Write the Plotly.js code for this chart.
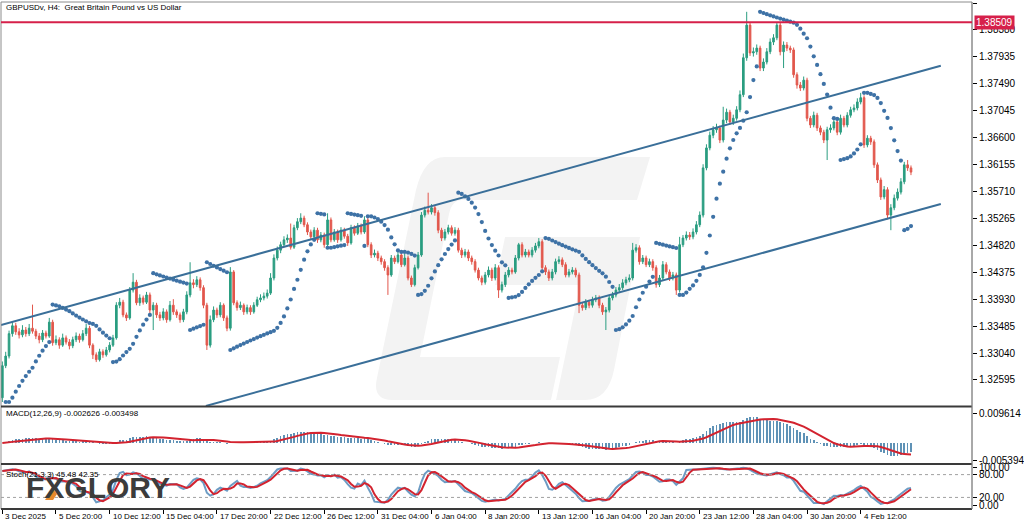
<!DOCTYPE html>
<html><head><meta charset="utf-8">
<script src="https://cdn.plot.ly/plotly-3.0.1.min.js"></script>
<style>html,body{margin:0;padding:0;background:#fff}#chart{width:1024px;height:524px}</style>
</head><body><div id="chart"></div>
<script>
// ---------- DATA ----------
const opens = [
1.3230,1.3283,1.3299,1.3336,1.3349,1.3339,1.3334,1.3342,1.3336,1.3345,
1.3340,1.3332,1.3326,1.3337,1.3332,1.3355,1.3321,1.3326,1.3317,1.3329,
1.3322,1.3316,1.3326,1.3332,1.3326,1.3336,1.3345,1.3317,1.3301,1.3293,
1.3306,1.3301,1.3309,1.3317,1.3329,1.3383,1.3388,1.3367,1.3362,1.3408,
1.3421,1.3387,1.3395,1.3388,1.3400,1.3375,1.3383,1.3367,1.3362,1.3372,
1.3359,1.3383,1.3372,1.3367,1.3359,1.3372,1.3400,1.3420,1.3417,1.3425,
1.3412,1.3383,1.3317,1.3359,1.3375,1.3367,1.3383,1.3362,1.3345,1.3438,
1.3387,1.3379,1.3383,1.3372,1.3379,1.3372,1.3383,1.3392,1.3395,1.3398,
1.3403,1.3428,1.3461,1.3474,1.3483,1.3491,1.3494,1.3479,1.3511,1.3521,
1.3527,1.3516,1.3504,1.3496,1.3507,1.3491,1.3499,1.3483,1.3524,1.3491,
1.3504,1.3491,1.3507,1.3497,1.3486,1.3511,1.3502,1.3514,1.3504,1.3524,
1.3483,1.3466,1.3469,1.3461,1.3455,1.3445,1.3433,1.3461,1.3455,1.3466,
1.3450,1.3461,1.3428,1.3417,1.3445,1.3466,1.3532,1.3540,1.3537,1.3544,
1.3536,1.3507,1.3494,1.3504,1.3511,1.3502,1.3507,1.3474,1.3466,1.3471,
1.3461,1.3455,1.3441,1.3428,1.3421,1.3433,1.3441,1.3428,1.3445,1.3408,
1.3417,1.3433,1.3441,1.3438,1.3461,1.3483,1.3466,1.3471,1.3466,1.3474,
1.3481,1.3488,1.3445,1.3438,1.3428,1.3438,1.3455,1.3458,1.3450,1.3433,
1.3438,1.3441,1.3433,1.3383,1.3379,1.3388,1.3383,1.3392,1.3395,1.3383,
1.3372,1.3375,1.3395,1.3400,1.3408,1.3412,1.3420,1.3425,1.3428,1.3474,
1.3478,1.3455,1.3461,1.3450,1.3455,1.3445,1.3417,1.3428,1.3450,1.3438,
1.3428,1.3433,1.3408,1.3483,1.3494,1.3499,1.3496,1.3504,1.3516,1.3532,
1.3610,1.3643,1.3664,1.3673,1.3676,1.3656,1.3689,1.3702,1.3686,1.3692,
1.3706,1.3731,1.3792,1.3846,1.3800,1.3802,1.3808,1.3775,1.3785,1.3802,
1.3818,1.3825,1.3846,1.3802,1.3813,1.3808,1.3805,1.3764,1.3747,1.3742,
1.3755,1.3692,1.3681,1.3697,1.3676,1.3669,1.3656,1.3673,1.3676,1.3686,
1.3669,1.3692,1.3681,1.3697,1.3706,1.3709,1.3719,1.3726,1.3648,1.3659,
1.3653,1.3615,1.3590,1.3562,1.3574,1.3532,1.3544,1.3560,1.3570,1.3587,
1.3615,1.3610];
const highs = [
1.3290,1.3306,1.3341,1.3356,1.3354,1.3345,1.3350,1.3347,1.3352,1.3384,
1.3344,1.3337,1.3342,1.3341,1.3362,1.3359,1.3333,1.3330,1.3336,1.3333,
1.3327,1.3331,1.3338,1.3336,1.3342,1.3352,1.3349,1.3320,1.3305,1.3311,
1.3310,1.3314,1.3322,1.3334,1.3388,1.3395,1.3392,1.3371,1.3413,1.3436,
1.3425,1.3401,1.3399,1.3405,1.3404,1.3388,1.3387,1.3372,1.3378,1.3376,
1.3390,1.3393,1.3376,1.3371,1.3377,1.3406,1.3454,1.3426,1.3431,1.3429,
1.3416,1.3387,1.3366,1.3381,1.3379,1.3388,1.3386,1.3366,1.3446,1.3441,
1.3391,1.3389,1.3386,1.3384,1.3383,1.3388,1.3397,1.3401,1.3404,1.3409,
1.3436,1.3467,1.3480,1.3488,1.3497,1.3500,1.3518,1.3516,1.3527,1.3535,
1.3531,1.3520,1.3508,1.3512,1.3511,1.3504,1.3503,1.3535,1.3528,1.3509,
1.3508,1.3512,1.3511,1.3501,1.3516,1.3515,1.3519,1.3518,1.3530,1.3528,
1.3487,1.3475,1.3473,1.3465,1.3459,1.3449,1.3466,1.3465,1.3471,1.3470,
1.3468,1.3465,1.3432,1.3450,1.3471,1.3537,1.3546,1.3569,1.3550,1.3548,
1.3540,1.3511,1.3509,1.3516,1.3515,1.3512,1.3511,1.3478,1.3476,1.3475,
1.3465,1.3459,1.3445,1.3432,1.3438,1.3447,1.3445,1.3451,1.3449,1.3422,
1.3438,1.3446,1.3445,1.3466,1.3486,1.3487,1.3476,1.3475,1.3479,1.3486,
1.3494,1.3492,1.3449,1.3442,1.3443,1.3460,1.3464,1.3462,1.3454,1.3443,
1.3446,1.3445,1.3437,1.3388,1.3393,1.3392,1.3397,1.3400,1.3399,1.3387,
1.3380,1.3400,1.3405,1.3413,1.3418,1.3426,1.3430,1.3434,1.3486,1.3484,
1.3482,1.3466,1.3465,1.3460,1.3459,1.3449,1.3433,1.3456,1.3454,1.3442,
1.3438,1.3437,1.3496,1.3499,1.3505,1.3504,1.3510,1.3522,1.3538,1.3616,
1.3649,1.3670,1.3679,1.3683,1.3680,1.3711,1.3708,1.3706,1.3698,1.3712,
1.3738,1.3799,1.3868,1.3851,1.3809,1.3814,1.3812,1.3791,1.3808,1.3824,
1.3831,1.3851,1.3850,1.3819,1.3818,1.3812,1.3809,1.3768,1.3752,1.3761,
1.3759,1.3696,1.3703,1.3701,1.3680,1.3673,1.3678,1.3682,1.3691,1.3690,
1.3698,1.3696,1.3702,1.3711,1.3715,1.3725,1.3734,1.3730,1.3664,1.3663,
1.3657,1.3619,1.3594,1.3580,1.3578,1.3550,1.3566,1.3576,1.3593,1.3620,
1.3623,1.3614];
const lows = [
1.3223,1.3279,1.3295,1.3331,1.3334,1.3328,1.3330,1.3331,1.3332,1.3336,
1.3327,1.3320,1.3322,1.3328,1.3329,1.3316,1.3317,1.3311,1.3314,1.3318,
1.3310,1.3312,1.3322,1.3321,1.3323,1.3332,1.3312,1.3294,1.3289,1.3290,
1.3296,1.3298,1.3305,1.3314,1.3326,1.3378,1.3363,1.3357,1.3359,1.3404,
1.3383,1.3382,1.3384,1.3385,1.3370,1.3342,1.3362,1.3357,1.3358,1.3354,
1.3356,1.3367,1.3362,1.3354,1.3355,1.3368,1.3396,1.3411,1.3413,1.3407,
1.3378,1.3309,1.3313,1.3355,1.3362,1.3363,1.3357,1.3340,1.3341,1.3383,
1.3374,1.3375,1.3367,1.3368,1.3367,1.3369,1.3380,1.3388,1.3391,1.3394,
1.3400,1.3424,1.3457,1.3469,1.3479,1.3486,1.3475,1.3476,1.3507,1.3517,
1.3512,1.3499,1.3491,1.3492,1.3486,1.3487,1.3478,1.3480,1.3487,1.3488,
1.3486,1.3488,1.3493,1.3481,1.3483,1.3498,1.3499,1.3500,1.3501,1.3479,
1.3461,1.3462,1.3456,1.3450,1.3440,1.3400,1.3430,1.3451,1.3452,1.3446,
1.3447,1.3424,1.3413,1.3414,1.3442,1.3463,1.3528,1.3533,1.3533,1.3531,
1.3502,1.3489,1.3490,1.3500,1.3498,1.3498,1.3470,1.3461,1.3462,1.3456,
1.3450,1.3437,1.3424,1.3416,1.3417,1.3429,1.3423,1.3424,1.3395,1.3404,
1.3413,1.3429,1.3434,1.3435,1.3457,1.3462,1.3462,1.3462,1.3462,1.3470,
1.3477,1.3441,1.3433,1.3423,1.3424,1.3434,1.3451,1.3446,1.3429,1.3429,
1.3434,1.3429,1.3370,1.3374,1.3375,1.3378,1.3379,1.3388,1.3378,1.3367,
1.3342,1.3371,1.3391,1.3396,1.3404,1.3408,1.3416,1.3421,1.3424,1.3470,
1.3450,1.3451,1.3446,1.3446,1.3440,1.3412,1.3413,1.3424,1.3434,1.3423,
1.3424,1.3400,1.3404,1.3479,1.3490,1.3491,1.3492,1.3500,1.3512,1.3528,
1.3606,1.3639,1.3659,1.3668,1.3651,1.3652,1.3684,1.3681,1.3681,1.3688,
1.3702,1.3727,1.3787,1.3795,1.3794,1.3797,1.3770,1.3770,1.3781,1.3798,
1.3813,1.3821,1.3796,1.3775,1.3803,1.3800,1.3759,1.3741,1.3737,1.3738,
1.3687,1.3676,1.3677,1.3671,1.3664,1.3651,1.3623,1.3668,1.3672,1.3664,
1.3665,1.3677,1.3677,1.3693,1.3702,1.3705,1.3715,1.3643,1.3644,1.3648,
1.3610,1.3585,1.3557,1.3558,1.3525,1.3507,1.3540,1.3556,1.3566,1.3583,
1.3605,1.3598];
const closes = [
1.3283,1.3299,1.3336,1.3349,1.3339,1.3334,1.3342,1.3336,1.3345,1.3340,
1.3332,1.3326,1.3337,1.3332,1.3355,1.3321,1.3326,1.3317,1.3329,1.3322,
1.3316,1.3326,1.3332,1.3326,1.3336,1.3345,1.3317,1.3301,1.3293,1.3306,
1.3301,1.3309,1.3317,1.3329,1.3383,1.3388,1.3367,1.3362,1.3408,1.3421,
1.3387,1.3395,1.3388,1.3400,1.3375,1.3383,1.3367,1.3362,1.3372,1.3359,
1.3383,1.3372,1.3367,1.3359,1.3372,1.3400,1.3420,1.3417,1.3425,1.3412,
1.3383,1.3317,1.3359,1.3375,1.3367,1.3383,1.3362,1.3345,1.3438,1.3387,
1.3379,1.3383,1.3372,1.3379,1.3372,1.3383,1.3392,1.3395,1.3398,1.3403,
1.3428,1.3461,1.3474,1.3483,1.3491,1.3494,1.3479,1.3511,1.3521,1.3527,
1.3516,1.3504,1.3496,1.3507,1.3491,1.3499,1.3483,1.3524,1.3491,1.3504,
1.3491,1.3507,1.3497,1.3486,1.3511,1.3502,1.3514,1.3504,1.3524,1.3483,
1.3466,1.3469,1.3461,1.3455,1.3445,1.3433,1.3461,1.3455,1.3466,1.3450,
1.3461,1.3428,1.3417,1.3445,1.3466,1.3532,1.3540,1.3537,1.3544,1.3536,
1.3507,1.3494,1.3504,1.3511,1.3502,1.3507,1.3474,1.3466,1.3471,1.3461,
1.3455,1.3441,1.3428,1.3421,1.3433,1.3441,1.3428,1.3445,1.3408,1.3417,
1.3433,1.3441,1.3438,1.3461,1.3483,1.3466,1.3471,1.3466,1.3474,1.3481,
1.3488,1.3445,1.3438,1.3428,1.3438,1.3455,1.3458,1.3450,1.3433,1.3438,
1.3441,1.3433,1.3383,1.3379,1.3388,1.3383,1.3392,1.3395,1.3383,1.3372,
1.3375,1.3395,1.3400,1.3408,1.3412,1.3420,1.3425,1.3428,1.3474,1.3478,
1.3455,1.3461,1.3450,1.3455,1.3445,1.3417,1.3428,1.3450,1.3438,1.3428,
1.3433,1.3408,1.3483,1.3494,1.3499,1.3496,1.3504,1.3516,1.3532,1.3610,
1.3643,1.3664,1.3673,1.3676,1.3656,1.3689,1.3702,1.3686,1.3692,1.3706,
1.3731,1.3792,1.3846,1.3800,1.3802,1.3808,1.3775,1.3785,1.3802,1.3818,
1.3825,1.3846,1.3802,1.3813,1.3808,1.3805,1.3764,1.3747,1.3742,1.3755,
1.3692,1.3681,1.3697,1.3676,1.3669,1.3656,1.3673,1.3676,1.3686,1.3669,
1.3692,1.3681,1.3697,1.3706,1.3709,1.3719,1.3726,1.3648,1.3659,1.3653,
1.3615,1.3590,1.3562,1.3574,1.3532,1.3544,1.3560,1.3570,1.3587,1.3615,
1.3610,1.3603];

const timeLabels = ['3 Dec 2025','5 Dec 20:00','10 Dec 12:00','15 Dec 04:00','17 Dec 20:00',
  '22 Dec 12:00','26 Dec 12:00','31 Dec 04:00','6 Jan 04:00','8 Jan 20:00','13 Jan 12:00',
  '16 Jan 04:00','20 Jan 20:00','23 Jan 12:00','28 Jan 04:00','30 Jan 20:00','4 Feb 12:00'];
const barsPerLabel = 16;
const priceTicks = [1.38825,1.38380,1.37935,1.37490,1.37045,1.36600,1.36155,1.35710,
  1.35265,1.34820,1.34375,1.33930,1.33485,1.33040,1.32595];
const resistanceLevel = [1.38509];
const upperChannelX = [-0.4, 279.9], upperChannelY = [1.33504, 1.37789];
const lowerChannelX = [60.7, 279.9], lowerChannelY = [1.32165, 1.35503];
const macdScale = [0.009614, -0.005394];
const macdInfo = [-0.002626, -0.003498];
const stochLevels = [80, 20];
const stochScale = [100, 80, 20, 0];
const stochInfo = [45.48, 42.35];

// ---------- INDICATORS (computed from OHLC as the terminal does) ----------
const idx = closes.map((_, i) => i);
function ema(src, p){const k=2/(p+1);let e=src[0];return src.map((v,i)=>(e = i? v*k + e*(1-k) : v));}
function sma(src, p){return src.map((_,i)=>{const a=src.slice(Math.max(0,i-p+1),i+1);return a.reduce((s,v)=>s+v,0)/a.length;});}
const e12 = ema(closes,12), e26 = ema(closes,26);
const macdMain = closes.map((_,i)=>e12[i]-e26[i]);
const macdSignal = sma(macdMain, 9);
const stochK = closes.map((_,i)=>{let num=0,den=0;for(let j=Math.max(0,i-2);j<=i;j++){const a=Math.max(0,j-20);const lo=Math.min(...lows.slice(a,j+1));const hi=Math.max(...highs.slice(a,j+1));num+=closes[j]-lo;den+=hi-lo;}return den?100*num/den:50;});
const stochD = sma(stochK,3);
function psar(h,l,step,maxAf){
  const out=new Array(h.length).fill(null);
  let up=true, af=step, ep=h[0], sar=l[0];
  for(let i=1;i<h.length;i++){
    sar = sar + af*(ep-sar);
    if(up){
      sar=Math.min(sar,l[i-1],i>1?l[i-2]:l[i-1]);
      if(l[i]<sar){up=false;sar=ep;ep=l[i];af=step;}
      else if(h[i]>ep){ep=h[i];af=Math.min(af+step,maxAf);}
    } else {
      sar=Math.max(sar,h[i-1],i>1?h[i-2]:h[i-1]);
      if(h[i]>sar){up=true;sar=ep;ep=h[i];af=step;}
      else if(l[i]<ep){ep=l[i];af=Math.min(af+step,maxAf);}
    }
    out[i]=sar;
  }
  return out;
}
const sarVals = psar(highs,lows,0.02,0.2);

// ---------- STYLE ----------
const UP='#2a9d80', DN='#e2574c', BLUE='#3e72a6', RED='#d3232f';
const FONT='Liberation Sans, Arial, sans-serif';
const PX=(x,y)=>`${((x-1)/971).toFixed(4)},${((509-y)/507).toFixed(4)}`;

const traces = [
  {type:'candlestick', x:idx, open:opens, high:highs, low:lows, close:closes, xaxis:'x', yaxis:'y',
   whiskerwidth:0, hoverinfo:'skip',
   increasing:{line:{color:UP,width:1},fillcolor:UP}, decreasing:{line:{color:DN,width:1},fillcolor:DN}},
  {type:'scatter', mode:'markers', x:idx, y:sarVals, xaxis:'x', yaxis:'y',
   marker:{size:4.2,color:BLUE}, hoverinfo:'skip'},
  {type:'scatter', mode:'lines', x:upperChannelX, y:upperChannelY, xaxis:'x', yaxis:'y',
   line:{color:'#3a6f99',width:2}, hoverinfo:'skip'},
  {type:'scatter', mode:'lines', x:lowerChannelX, y:lowerChannelY, xaxis:'x', yaxis:'y',
   line:{color:'#3a6f99',width:2}, hoverinfo:'skip'},
  {type:'bar', x:idx, y:macdMain, xaxis:'x', yaxis:'y2', width:0.5,
   marker:{color:'#5f92b6',line:{width:0}}, hoverinfo:'skip'},
  {type:'scatter', mode:'lines', x:idx, y:macdSignal, xaxis:'x', yaxis:'y2',
   line:{color:RED,width:2}, hoverinfo:'skip'},
  {type:'scatter', mode:'lines', x:idx, y:stochK, xaxis:'x', yaxis:'y3',
   line:{color:'#6d9cc4',width:2}, hoverinfo:'skip'},
  {type:'scatter', mode:'lines', x:idx, y:stochD, xaxis:'x', yaxis:'y3',
   line:{color:RED,width:2}, hoverinfo:'skip'}
];

const tickFont = {family:FONT,size:10,color:'#000'};
const yCommon = {side:'right', showgrid:false, zeroline:false, ticks:'outside', ticklen:4,
  tickcolor:'#000', tickfont:tickFont, fixedrange:true, showline:false};

const shapes = [
  // faint watermark logo
  {type:'path', xref:'paper', yref:'paper', layer:'below', fillcolor:'#f3f3f3', line:{width:0},
   path:'M'+PX(445,157)+' L'+PX(650,157)+' L'+PX(637,200)+' L'+PX(462,200)+' Q'+PX(452,200)+' '+PX(449,214)+
        ' L'+PX(420,357)+' L'+PX(560,357)+' L'+PX(551,400)+' L'+PX(392,400)+' Q'+PX(372,400)+' '+PX(377,378)+
        ' L'+PX(416,190)+' Q'+PX(424,157)+' '+PX(445,157)+' Z'},
  {type:'path', xref:'paper', yref:'paper', layer:'below', fillcolor:'#f3f3f3', line:{width:0},
   path:'M'+PX(505,237)+' L'+PX(640,237)+' L'+PX(614,370)+' Q'+PX(608,400)+' '+PX(585,400)+' L'+PX(556,400)+
        ' L'+PX(580,285)+' L'+PX(495,285)+' Z'},
  // panel frames
  {type:'rect', xref:'paper', yref:'paper', x0:0, x1:1, y0:0, y1:1, line:{color:'#8c8c8c',width:1}},
  {type:'line', xref:'paper', yref:'paper', x0:0, x1:1, y0:(509-406.5)/507, y1:(509-406.5)/507, line:{color:'#3a3a3a',width:2}},
  {type:'line', xref:'paper', yref:'paper', x0:0, x1:1, y0:(509-464)/507, y1:(509-464)/507, line:{color:'#3a3a3a',width:2}},
  {type:'line', xref:'paper', yref:'paper', x0:0, x1:1, y0:0, y1:0, line:{color:'#3a3a3a',width:2}},
  {type:'line', xref:'paper', yref:'paper', x0:1, x1:1, y0:0, y1:1, line:{color:'#8c8c8c',width:1}},
  // resistance level
  {type:'line', xref:'paper', yref:'y', x0:0, x1:1, y0:resistanceLevel[0], y1:resistanceLevel[0], line:{color:'#d6204a',width:2}},
  // stochastic levels
  ...stochLevels.map(v=>({type:'line', xref:'paper', yref:'y3', x0:0, x1:1, y0:v, y1:v, line:{color:'#a0a0a0',width:1,dash:'dot'}})),
  // orange accent of logo
  {type:'path', xref:'paper', yref:'paper', fillcolor:'#e8892b', line:{width:0},
   path:'M'+PX(45,500)+' L'+PX(53,489)+' L'+PX(57,494)+' L'+PX(53,500)+' Z'}
];

const annotations = [
  {xref:'paper', yref:'paper', x:(4-1)/971, y:(509-7)/507, xanchor:'left', yanchor:'middle', showarrow:false,
   text:'GBPUSDv, H4:\u00a0\u00a0Great Britain Pound vs US Dollar', font:{family:FONT,size:8,color:'#000'}},
  {xref:'paper', yref:'paper', x:(4-1)/971, y:(509-414)/507, xanchor:'left', yanchor:'middle', showarrow:false,
   text:'MACD(12,26,9) '+macdInfo[0].toFixed(6)+' '+macdInfo[1].toFixed(6), font:{family:FONT,size:8,color:'#000'}},
  {xref:'paper', yref:'paper', x:(4-1)/971, y:(509-474)/507, xanchor:'left', yanchor:'middle', showarrow:false,
   text:'Stoch(21,3,3) '+stochInfo[0].toFixed(2)+' '+stochInfo[1].toFixed(2), font:{family:FONT,size:8,color:'#000'}},
  {xref:'paper', yref:'y', x:1, y:resistanceLevel[0], xanchor:'left', yanchor:'middle', xshift:2, showarrow:false,
   text:resistanceLevel[0].toFixed(5), bgcolor:'#d6204a', borderpad:1, font:{family:FONT,size:10,color:'#fff'}},
  {xref:'paper', yref:'paper', x:(24-1)/971, y:(509-487)/507, xanchor:'left', yanchor:'middle', showarrow:false,
   text:'<b>FXGLORY</b>', font:{family:'Liberation Sans, Arial, sans-serif',size:30,color:'#3c3c3c'}},
  // time-axis labels, written to the right of their tick like the terminal does
  ...timeLabels.map((t,k)=>({xref:'x', yref:'paper', x:k*barsPerLabel, y:0, xanchor:'left', yanchor:'top',
    xshift:1, yshift:-1, showarrow:false, text:t, font:{family:FONT,size:8,color:'#000'}}))
];

const layout = {
  width:1024, height:524, margin:{l:1,r:52,t:2,b:15}, paper_bgcolor:'#fff', plot_bgcolor:'#fff',
  showlegend:false, bargap:0,
  xaxis:{anchor:'y3', range:[-0.4,289.2], showgrid:false, zeroline:false, fixedrange:true,
    rangeslider:{visible:false}, tickmode:'array',
    tickvals:timeLabels.map((_,k)=>k*barsPerLabel), ticktext:timeLabels.map(()=>''), showticklabels:false,
    ticks:'outside', ticklen:4, tickcolor:'#000'},
  yaxis:Object.assign({}, yCommon, {domain:[(509-406)/507,1], range:[1.32164,1.38842],
    tickmode:'array', tickvals:priceTicks, ticktext:priceTicks.map(v=>v.toFixed(5))}),
  yaxis2:Object.assign({}, yCommon, {domain:[(509-463)/507,(509-408)/507], range:[-0.00635,0.01121],
    tickmode:'array', tickvals:macdScale, ticktext:macdScale.map(v=>v.toFixed(6))}),
  yaxis3:Object.assign({}, yCommon, {domain:[0,(509-465)/507], range:[-10.5,105.3],
    tickmode:'array', tickvals:stochScale, ticktext:stochScale.map(v=>v.toFixed(2))}),
  shapes, annotations
};

Plotly.newPlot('chart', traces, layout, {staticPlot:true, displayModeBar:false});
</script>
</body></html>
